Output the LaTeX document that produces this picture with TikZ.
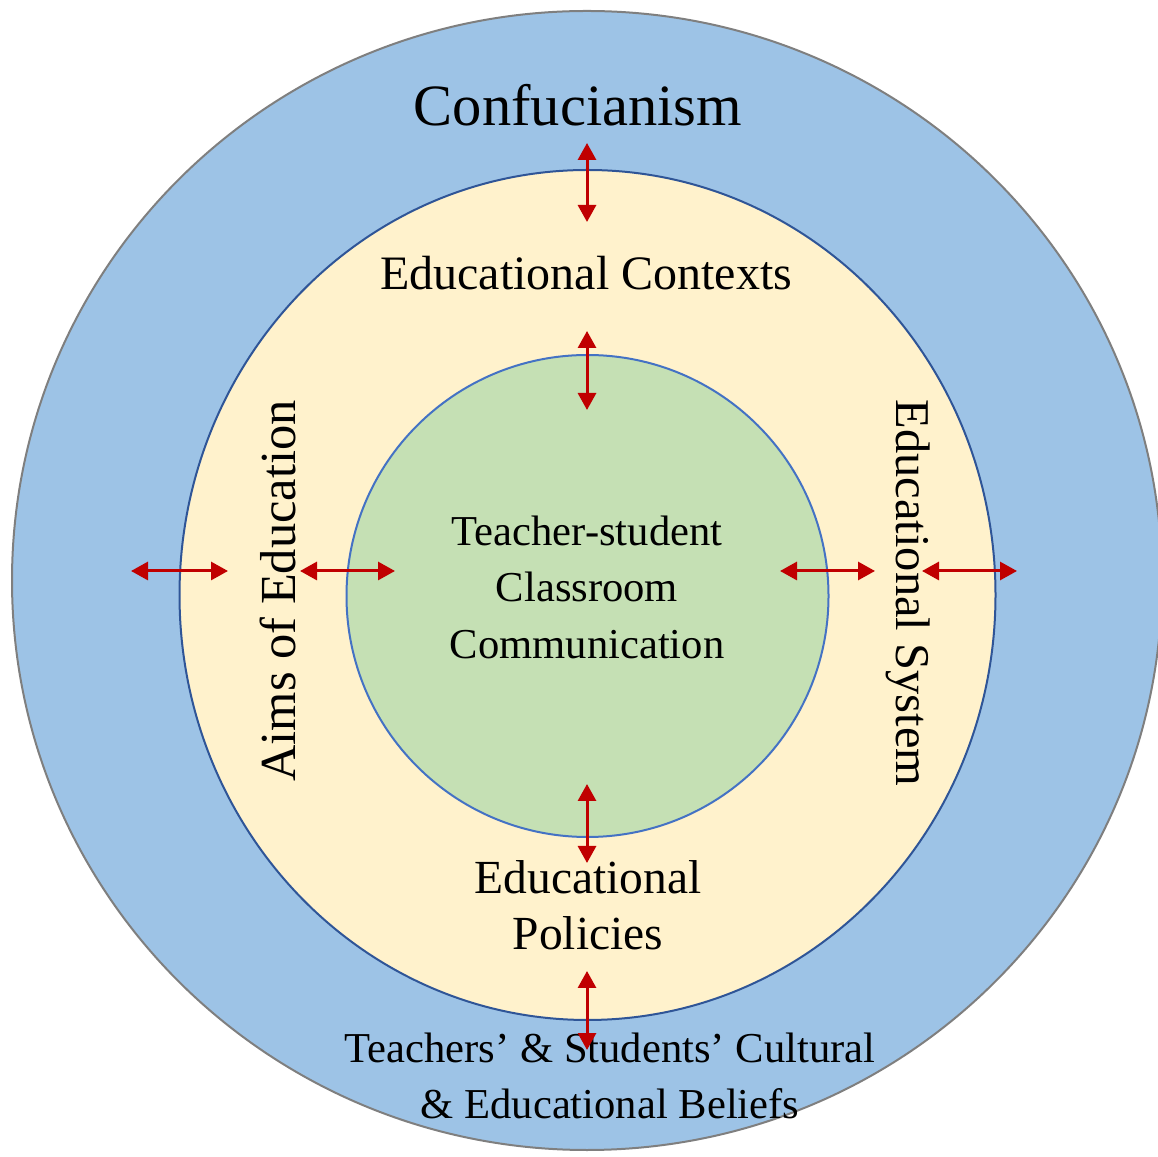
\documentclass[tikz,border=0pt]{standalone}
\usepackage{fontspec}
\setmainfont{Liberation Serif}
\usetikzlibrary{arrows.meta}
\definecolor{outerfill}{HTML}{9DC3E6}
\definecolor{outerline}{HTML}{7F7F7F}
\definecolor{midfill}{HTML}{FFF2CC}
\definecolor{midline}{HTML}{2F5597}
\definecolor{innerfill}{HTML}{C5E0B4}
\definecolor{innerline}{HTML}{4472C4}
\definecolor{arrowred}{HTML}{C00000}
\tikzset{
  biarrow/.style={draw=arrowred, line width=3pt, {Triangle[length=17pt,width=18pt]}-{Triangle[length=17pt,width=18pt]}},
  lbl/.style={inner sep=0pt, text=black, align=center}
}
\begin{document}
\begin{tikzpicture}[x=1pt,y=1pt]
\useasboundingbox (0,0) rectangle (1158,1156);
% rings
\draw[fill=outerfill, draw=outerline, line width=2pt] (587,575.5) ellipse [x radius=575, y radius=569.5];
\draw[fill=midfill, draw=midline, line width=2pt] (587.5,561) ellipse [x radius=408, y radius=425];
\draw[fill=innerfill, draw=innerline, line width=2pt] (587.5,560) circle [radius=241];
% labels
\node[lbl, font=\fontsize{58.5}{66}\selectfont] (conf) at (578,1051) {Confucianism};
\node[lbl, font=\fontsize{48}{56}\selectfont] (ctx) at (586,883) {Educational Contexts};
\node[lbl, font=\fontsize{42.6}{56.5}\selectfont] (core) at (587,569) {Teacher-student\\Classroom\\Communication};
\node[lbl, font=\fontsize{47.5}{56}\selectfont] (pol) at (588,251) {Educational\\Policies};
\node[lbl, font=\fontsize{50.5}{60}\selectfont, rotate=90] (aims) at (278,565) {Aims of Education};
\node[lbl, font=\fontsize{48.5}{58}\selectfont, rotate=-90] (sys) at (908,563) {Educational System};
\node[lbl, font=\fontsize{42.6}{56}\selectfont] (bel) at (610,80) {Teachers’ \& Students’ Cultural\\\& Educational Beliefs};
% arrow end points
\coordinate (t1a) at (587,1013); \coordinate (t1b) at (587,934);
\coordinate (t2a) at (587,825);  \coordinate (t2b) at (587,746);
\coordinate (b2a) at (587,372);  \coordinate (b2b) at (587,293);
\coordinate (b1a) at (587,185);  \coordinate (b1b) at (587,106);
\coordinate (l1a) at (131,585);  \coordinate (l1b) at (228,585);
\coordinate (l2a) at (300,585);  \coordinate (l2b) at (395,585);
\coordinate (r2a) at (780,585);  \coordinate (r2b) at (875,585);
\coordinate (r1a) at (922,585);  \coordinate (r1b) at (1017,585);
\draw[biarrow] (t1a) -- (t1b);
\draw[biarrow] (t2a) -- (t2b);
\draw[biarrow] (b2a) -- (b2b);
\draw[biarrow] (b1a) -- (b1b);
\draw[biarrow] (l1a) -- (l1b);
\draw[biarrow] (l2a) -- (l2b);
\draw[biarrow] (r2a) -- (r2b);
\draw[biarrow] (r1a) -- (r1b);
\end{tikzpicture}
\end{document}
